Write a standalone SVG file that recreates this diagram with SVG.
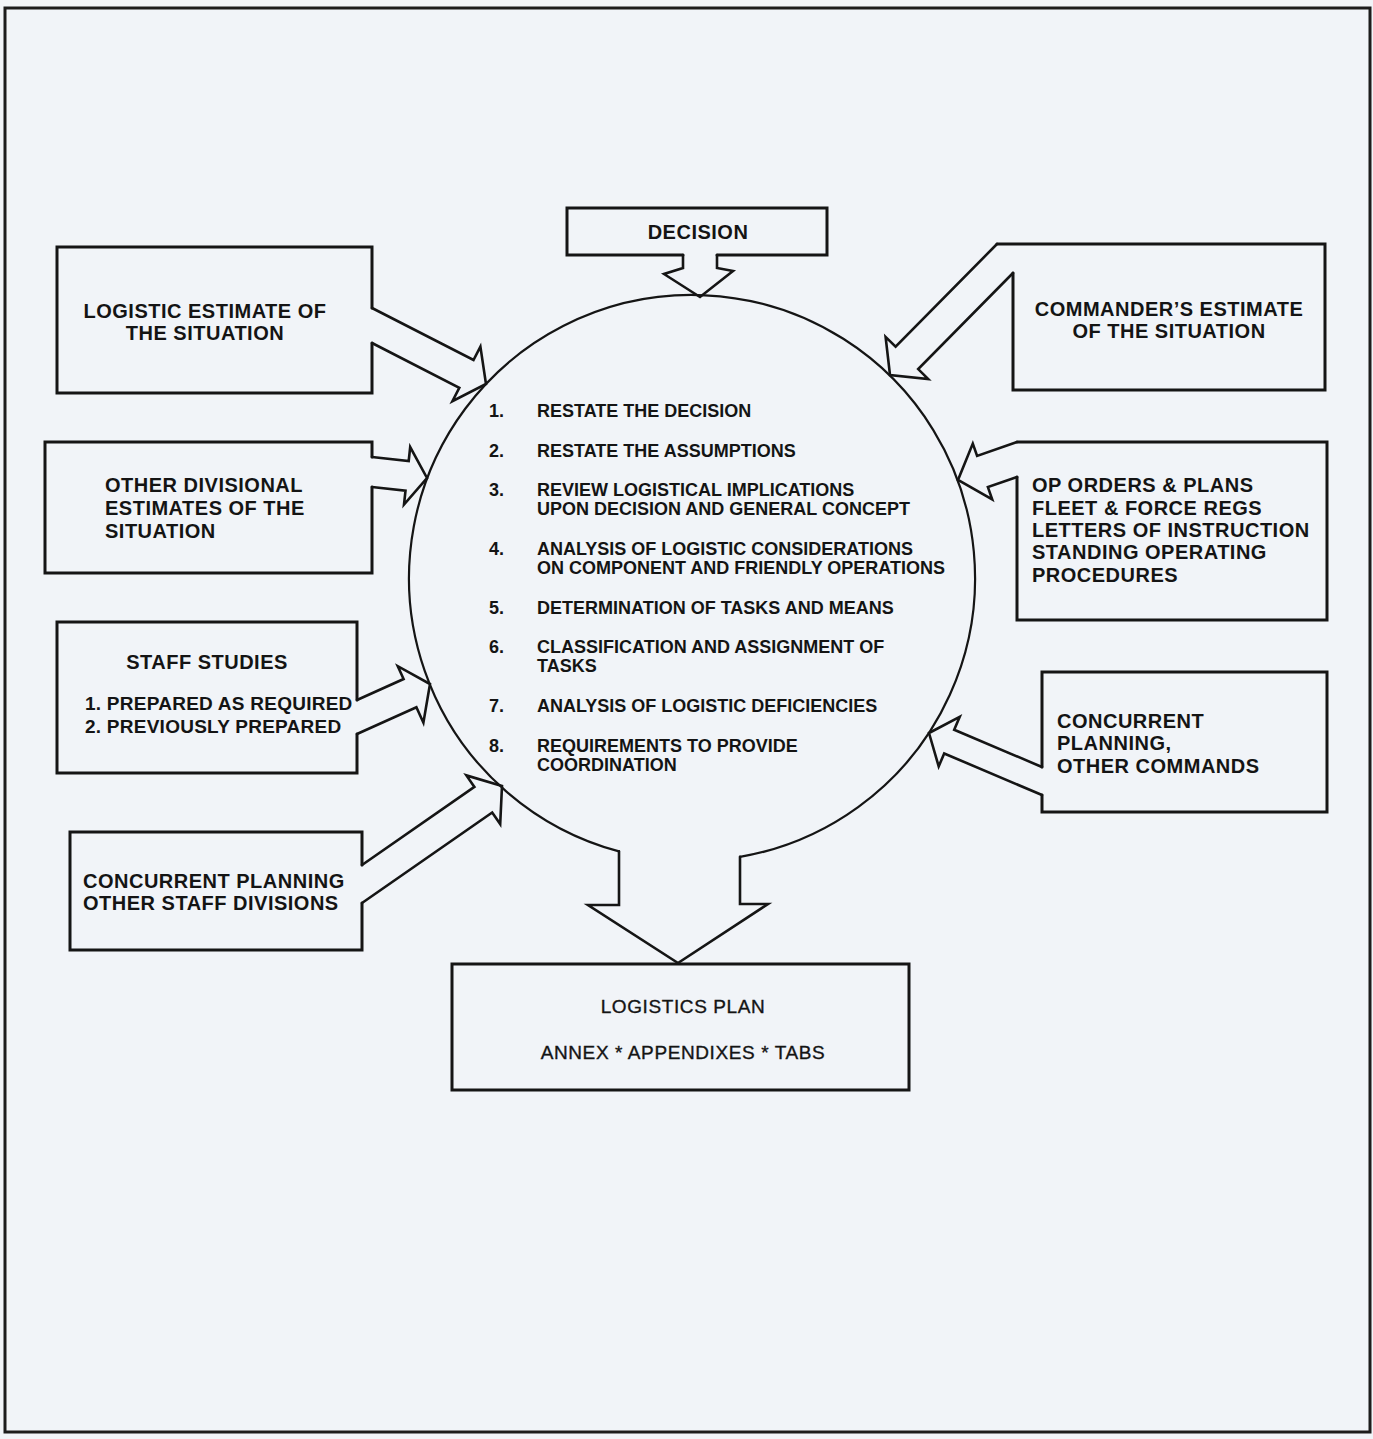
<svg xmlns="http://www.w3.org/2000/svg" width="1373" height="1439" viewBox="0 0 1373 1439">
  <defs>
    <style>
      .paper { fill: #f1f4f8; }
      .frame { fill: none; stroke: #1c1c1c; stroke-width: 3; }
      .box { fill: none; stroke: #151515; stroke-width: 3; stroke-linejoin: miter; stroke-linecap: round; }
      .arrow { fill: none; stroke: #151515; stroke-width: 2.6; stroke-linejoin: miter; stroke-linecap: round; }
      .ring { fill: none; stroke: #151515; stroke-width: 2.2; stroke-linecap: round; }
      text { font-family: "Liberation Sans", Arial, Helvetica, sans-serif; fill: #141414; }
      .lbl { font-size: 20px; font-weight: bold; letter-spacing: 0.5px; }
      .tight { font-size: 19px; letter-spacing: 0.25px; }
      .mid { text-anchor: middle; }
      .step { font-size: 18px; font-weight: bold; }
      .plain { font-size: 19px; font-weight: normal; letter-spacing: 0.6px; stroke: #141414; stroke-width: 0.35px; }
    </style>
  </defs>

  <rect class="paper" x="0" y="0" width="1373" height="1439"/>
  <rect class="frame" x="5" y="8" width="1365" height="1424"/>

  <!-- input and output boxes; each outline leaves an opening where its arrow joins -->
  <g id="decision">
    <path class="box" d="M683,255 L567,255 L567,208 L827,208 L827,255 L717,255"/>
    <text class="lbl mid" x="698" y="239">DECISION</text>
  </g>

  <g id="logistic-estimate">
    <path class="box" d="M372,308 L372,247 L57,247 L57,393 L372,393 L372,343"/>
    <text class="lbl mid" x="205" y="318">LOGISTIC ESTIMATE OF</text>
    <text class="lbl mid" x="205" y="340">THE SITUATION</text>
  </g>

  <g id="commanders-estimate">
    <path class="box" d="M997,244 L1325,244 L1325,390 L1013,390 L1013,273"/>
    <text class="lbl mid" x="1169" y="316">COMMANDER’S ESTIMATE</text>
    <text class="lbl mid" x="1169" y="338">OF THE SITUATION</text>
  </g>

  <g id="divisional-estimates">
    <path class="box" d="M372,457 L372,442 L45,442 L45,573 L372,573 L372,487"/>
    <text class="lbl" x="105" y="492">OTHER DIVISIONAL</text>
    <text class="lbl" x="105" y="515">ESTIMATES OF THE</text>
    <text class="lbl" x="105" y="538">SITUATION</text>
  </g>

  <g id="op-orders">
    <path class="box" d="M1017,442 L1327,442 L1327,620 L1017,620 L1017,477"/>
    <text class="lbl" x="1032" y="492">OP ORDERS &amp; PLANS</text>
    <text class="lbl" x="1032" y="515">FLEET &amp; FORCE REGS</text>
    <text class="lbl" x="1032" y="537">LETTERS OF INSTRUCTION</text>
    <text class="lbl" x="1032" y="559">STANDING OPERATING</text>
    <text class="lbl" x="1032" y="582">PROCEDURES</text>
  </g>

  <g id="staff-studies">
    <path class="box" d="M357,700 L357,622 L57,622 L57,773 L357,773 L357,734"/>
    <text class="lbl mid" x="207" y="669">STAFF STUDIES</text>
    <text class="lbl tight" x="85" y="710">1. PREPARED AS REQUIRED</text>
    <text class="lbl tight" x="85" y="733">2. PREVIOUSLY PREPARED</text>
  </g>

  <g id="other-commands">
    <path class="box" d="M1042,767 L1042,672 L1327,672 L1327,812 L1042,812 L1042,795"/>
    <text class="lbl" x="1057" y="728">CONCURRENT</text>
    <text class="lbl" x="1057" y="750">PLANNING,</text>
    <text class="lbl" x="1057" y="773">OTHER COMMANDS</text>
  </g>

  <g id="other-staff-divisions">
    <path class="box" d="M362,865 L362,832 L70,832 L70,950 L362,950 L362,903"/>
    <text class="lbl" x="83" y="888">CONCURRENT PLANNING</text>
    <text class="lbl" x="83" y="910">OTHER STAFF DIVISIONS</text>
  </g>

  <g id="logistics-plan">
    <rect class="box" x="452" y="964" width="457" height="126"/>
    <text class="plain mid" x="683" y="1013">LOGISTICS PLAN</text>
    <text class="plain mid" x="683" y="1059">ANNEX * APPENDIXES * TABS</text>
  </g>

  <!-- block arrows feeding the planning circle and leaving it -->
  <g id="connectors">
    <path class="arrow" d="M683,255 L683,268 L664,274 L700,297 L733,271 L717,268 L717,255"/>
    <path class="arrow" d="M372,308 L473.5,360 L480.4,346.6 L486,384 L452.4,401.2 L459.3,387.8 L372,343"/>
    <path class="arrow" d="M372,457 L408.7,461 L410.2,447.1 L427,478 L404,504.5 L405.5,490.6 L372,487"/>
    <path class="arrow" d="M357,700 L403.6,679 L397.8,666.2 L430,684 L423.4,722.7 L416.4,707.2 L357,734"/>
    <path class="arrow" d="M362,865 L474.4,786.9 L466.4,775.4 L502,786 L500.2,824 L492.2,812.5 L362,903"/>
    <path class="arrow" d="M997,244 L895.6,346.7 L885.6,336.9 L890,375 L928.2,379 L918.2,369.1 L1013,273"/>
    <path class="arrow" d="M1017,442 L977.1,455.9 L972.8,443.6 L958,480 L992.2,499.4 L987.9,487.1 L1017,477"/>
    <path class="arrow" d="M1042,767 L954.2,729.7 L959.7,716.8 L929,733 L938.7,766.4 L944.2,753.5 L1042,795"/>
    <path class="arrow" d="M619,851.4 L619,905 L588,905 L678,963 L768,904 L740,904 L740,856.9"/>
  </g>

  <!-- central planning circle with its eight steps -->
  <g id="planning-steps">
    <path class="ring" d="M740,856.9 A283,283 0 1 0 619,851.4"/>
    <text class="step" x="489" y="417">1.</text>
    <text class="step" x="537" y="417">RESTATE THE DECISION</text>
    <text class="step" x="489" y="457">2.</text>
    <text class="step" x="537" y="457">RESTATE THE ASSUMPTIONS</text>
    <text class="step" x="489" y="496">3.</text>
    <text class="step" x="537" y="496">REVIEW LOGISTICAL IMPLICATIONS</text>
    <text class="step" x="537" y="515">UPON DECISION AND GENERAL CONCEPT</text>
    <text class="step" x="489" y="555">4.</text>
    <text class="step" x="537" y="555">ANALYSIS OF LOGISTIC CONSIDERATIONS</text>
    <text class="step" x="537" y="574">ON COMPONENT AND FRIENDLY OPERATIONS</text>
    <text class="step" x="489" y="614">5.</text>
    <text class="step" x="537" y="614">DETERMINATION OF TASKS AND MEANS</text>
    <text class="step" x="489" y="653">6.</text>
    <text class="step" x="537" y="653">CLASSIFICATION AND ASSIGNMENT OF</text>
    <text class="step" x="537" y="672">TASKS</text>
    <text class="step" x="489" y="712">7.</text>
    <text class="step" x="537" y="712">ANALYSIS OF LOGISTIC DEFICIENCIES</text>
    <text class="step" x="489" y="752">8.</text>
    <text class="step" x="537" y="752">REQUIREMENTS TO PROVIDE</text>
    <text class="step" x="537" y="771">COORDINATION</text>
  </g>
</svg>
